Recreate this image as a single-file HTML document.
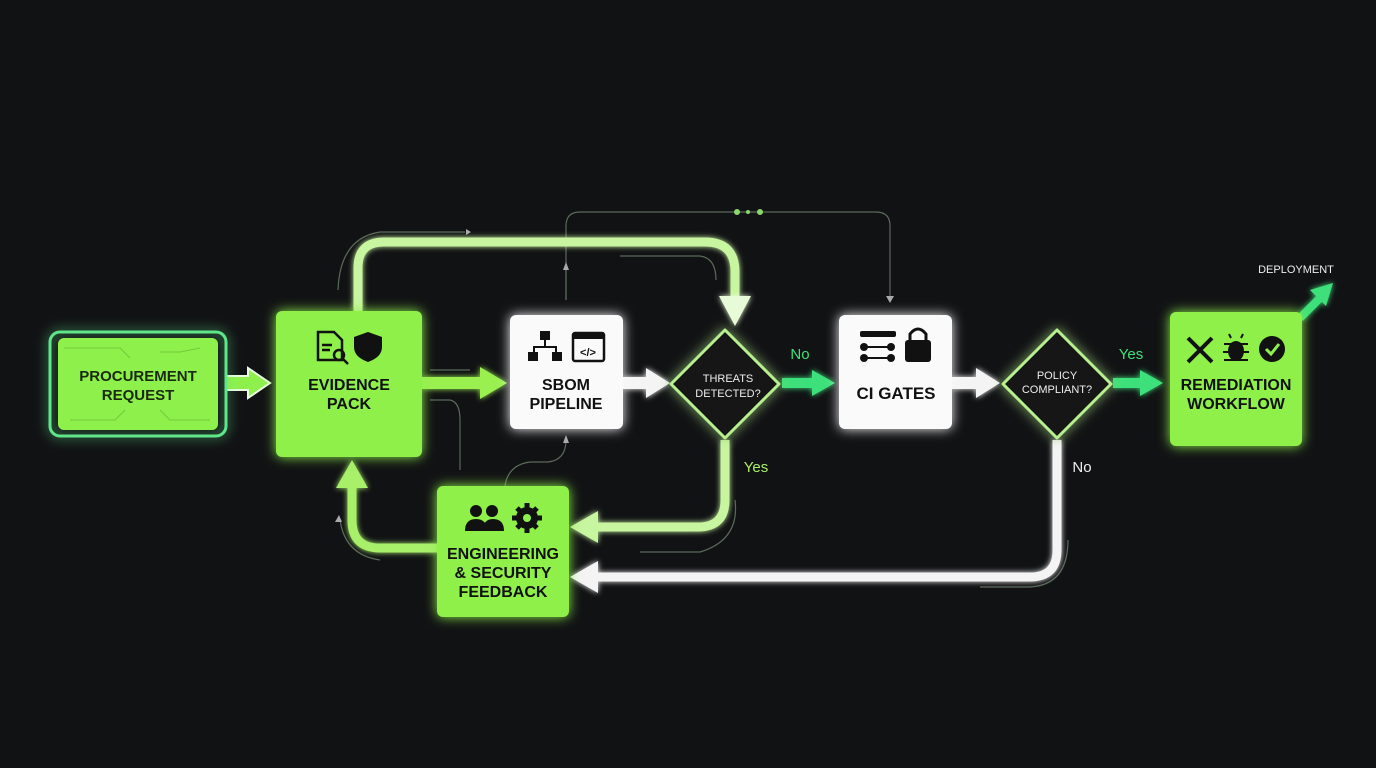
<!DOCTYPE html>
<html><head><meta charset="utf-8"><style>
html,body{margin:0;padding:0;background:#111214;}
svg{display:block}
text{font-family:"Liberation Sans",sans-serif;}
</style></head><body>
<svg width="1376" height="768" viewBox="0 0 1376 768" xmlns="http://www.w3.org/2000/svg">
<defs>
<filter id="g" x="-50%" y="-50%" width="200%" height="200%"><feGaussianBlur stdDeviation="6" result="b"/><feMerge><feMergeNode in="b"/><feMergeNode in="SourceGraphic"/></feMerge></filter>
<filter id="g2" x="-50%" y="-50%" width="200%" height="200%"><feGaussianBlur stdDeviation="3" result="b"/><feMerge><feMergeNode in="b"/><feMergeNode in="SourceGraphic"/></feMerge></filter>
</defs>
<rect width="1376" height="768" fill="#111214"/>
<!-- thin lines -->
<g fill="none" stroke="#5a6a5a" stroke-width="1.2">
<path d="M566 300 V226 Q566 212 580 212 H876 Q890 212 890 226 V298"/>
<path d="M338 290 Q340 238 380 232 H465"/>
<path d="M620 256 H700 Q716 258 716 280"/>
<path d="M566 300 V270"/>
<path d="M430 370 H470"/>
<path d="M430 400 H450 Q460 402 460 420 V470"/>
<path d="M505 486 Q508 465 530 462 H548 Q566 460 566 440"/>
<path d="M340 520 Q345 555 380 560"/>
<path d="M735 500 Q740 540 700 552 H640"/>
<path d="M1068 540 Q1068 585 1030 587 H980"/>
</g>
<g fill="#8ad86a"><circle cx="737" cy="212" r="3"/><circle cx="748" cy="212" r="2"/><circle cx="760" cy="212" r="3"/></g>
<g fill="#aaa"><path d="M886 296 L894 296 L890 303Z"/><path d="M466 229 L466 235 L471 232Z"/><path d="M566 262 L563 270 L569 270Z"/><path d="M566 435 L563 443 L569 443Z"/><path d="M335 522 L339 515 L342 522Z"/></g>
<!-- big connectors -->
<g fill="none" stroke-linecap="butt" filter="url(#g2)">
<path d="M358 311 V268 Q358 242 384 242 H705 Q735 242 735 272 V296" stroke="#c8f5a0" stroke-width="9"/>
<path d="M725 440 V500 Q725 527 698 527 H595" stroke="#c8f5a0" stroke-width="9"/>
<path d="M1057 440 V550 Q1057 577 1030 577 H595" stroke="#f4f4f4" stroke-width="9"/>
<path d="M437 548 H380 Q352 548 352 520 V486" stroke="#a8ef6a" stroke-width="9"/>
<path d="M422 383 H482" stroke="#9af050" stroke-width="12"/>
<path d="M623 383 H648" stroke="#f4f4f4" stroke-width="12"/>
<path d="M782 383 H815" stroke="#3ee07a" stroke-width="10"/>
<path d="M952 383 H978" stroke="#f4f4f4" stroke-width="12"/>
<path d="M1113 383 H1143" stroke="#3ee07a" stroke-width="10"/>
<path d="M1300 318 L1320 298" stroke="#3ee07a" stroke-width="8"/>
</g>
<g filter="url(#g2)">
<path d="M719 296 L751 296 L735 326Z" fill="#e8fbd8"/>
<path d="M598 511 L598 543 L570 527Z" fill="#c8f5a0"/>
<path d="M598 561 L598 593 L570 577Z" fill="#f4f4f4"/>
<path d="M336 488 L368 488 L352 460Z" fill="#a8ef6a"/>
<path d="M480 367 L480 399 L507 383Z" fill="#9af050"/>
<path d="M646 368 L646 398 L670 383Z" fill="#f4f4f4"/>
<path d="M812 370 L812 396 L835 383Z" fill="#3ee07a"/>
<path d="M976 368 L976 398 L1000 383Z" fill="#f4f4f4"/>
<path d="M1140 370 L1140 396 L1163 383Z" fill="#3ee07a"/>
<path d="M1310 290 L1333 283 L1326 306Z" fill="#3ee07a"/>
</g>
<!-- procurement arrow (outline) -->
<path d="M226 376 H248 V368 L270 383 L248 398 V390 H226" fill="#8ef04a" stroke="#e8ffe0" stroke-width="2"/>
<!-- procurement -->
<rect x="50" y="332" width="176" height="104" rx="10" fill="none" stroke="#5fe68a" stroke-width="3" filter="url(#g)"/>
<rect x="58" y="338" width="160" height="92" rx="6" fill="#8ef04a"/>
<g stroke="#75c93e" stroke-width="1" fill="none"><path d="M64 348 H120 L130 358 M200 348 L180 352 H160 M70 420 H115 L125 410 M210 420 H170 L160 410"/></g>
<text x="138" y="381" font-size="15" font-weight="bold" fill="#1a2a10" text-anchor="middle">PROCUREMENT</text>
<text x="138" y="400" font-size="15" font-weight="bold" fill="#1a2a10" text-anchor="middle">REQUEST</text>
<!-- evidence -->
<rect x="276" y="311" width="146" height="146" rx="6" fill="#8ef04a" filter="url(#g)"/>
<g fill="none" stroke="#111" stroke-width="2.5"><path d="M318 332 H334 L342 340 V360 H318Z"/><circle cx="339" cy="355" r="5"/><path d="M343 359 L348 364"/><path d="M322 345 H332 M322 350 H330"/></g>
<path d="M368 332 L382 337 V347 Q382 357 368 362 Q354 357 354 347 V337Z" fill="#111"/>
<path d="M368 337 L377 340 V347 Q377 354 368 357Z" fill="#8ef04a" opacity=".0"/>
<text x="349" y="390" font-size="16" font-weight="bold" fill="#111" text-anchor="middle">EVIDENCE</text>
<text x="349" y="409" font-size="16" font-weight="bold" fill="#111" text-anchor="middle">PACK</text>
<!-- sbom -->
<rect x="510" y="315" width="113" height="114" rx="6" fill="#fafafa" filter="url(#g)"/>
<g fill="#111"><rect x="540" y="331" width="10" height="9"/><rect x="528" y="352" width="10" height="9"/><rect x="552" y="352" width="10" height="9"/><path d="M544 340 V346 H533 V352 H535 V348 H555 V352 H557 V346 H546 V340Z"/></g>
<rect x="573" y="333" width="31" height="28" rx="2" fill="none" stroke="#111" stroke-width="2.5"/><rect x="573" y="333" width="31" height="6" fill="#111"/>
<text x="588" y="356" font-size="11" fill="#111" text-anchor="middle" font-weight="bold">&lt;/&gt;</text>
<text x="566" y="390" font-size="16" font-weight="bold" fill="#111" text-anchor="middle">SBOM</text>
<text x="566" y="409" font-size="16" font-weight="bold" fill="#111" text-anchor="middle">PIPELINE</text>
<!-- threats diamond -->
<path d="M725 330 L779 384 L725 438 L671 384Z" fill="#141614" stroke="#b8f090" stroke-width="3" stroke-linejoin="round" filter="url(#g)"/>
<text x="728" y="382" font-size="11" fill="#eee" text-anchor="middle">THREATS</text>
<text x="728" y="397" font-size="11" fill="#eee" text-anchor="middle">DETECTED?</text>
<text x="800" y="359" font-size="15" fill="#3ee07a" text-anchor="middle">No</text>
<text x="756" y="472" font-size="15" fill="#a8ef6a" text-anchor="middle">Yes</text>
<!-- ci gates -->
<rect x="839" y="315" width="113" height="114" rx="6" fill="#fafafa" filter="url(#g)"/>
<g fill="#111"><rect x="860" y="331" width="36" height="6" rx="2"/><circle cx="864" cy="347" r="4"/><circle cx="891" cy="347" r="4"/><rect x="866" y="346" width="22" height="2"/><circle cx="864" cy="358" r="4"/><circle cx="891" cy="358" r="4"/><rect x="866" y="357" width="22" height="2"/>
<rect x="905" y="340" width="26" height="22" rx="3"/><path d="M910 340 V334 Q918 324 926 334 V340" fill="none" stroke="#111" stroke-width="3"/></g>
<text x="896" y="399" font-size="17" font-weight="bold" fill="#111" text-anchor="middle">CI GATES</text>
<!-- policy diamond -->
<path d="M1057 330 L1111 384 L1057 438 L1003 384Z" fill="#141614" stroke="#b8f090" stroke-width="3" stroke-linejoin="round" filter="url(#g)"/>
<text x="1057" y="379" font-size="11" fill="#eee" text-anchor="middle">POLICY</text>
<text x="1057" y="393" font-size="11" fill="#eee" text-anchor="middle">COMPLIANT?</text>
<text x="1131" y="359" font-size="15" fill="#3ee07a" text-anchor="middle">Yes</text>
<text x="1082" y="472" font-size="15" fill="#eee" text-anchor="middle">No</text>
<!-- remediation -->
<rect x="1170" y="312" width="132" height="134" rx="6" fill="#8ef04a" filter="url(#g)"/>
<g stroke="#111" stroke-width="4" fill="none"><path d="M1188 338 L1212 362 M1212 338 L1188 362"/></g>
<ellipse cx="1236" cy="351" rx="8" ry="10" fill="#111"/><g stroke="#111" stroke-width="2"><path d="M1224 344 L1248 344 M1223 352 H1249 M1224 360 L1248 360 M1231 338 L1229 334 M1241 338 L1243 334"/></g>
<circle cx="1272" cy="349" r="13" fill="#111"/><path d="M1266 349 L1271 354 L1279 344" fill="none" stroke="#8ef04a" stroke-width="3"/>
<text x="1236" y="390" font-size="16" font-weight="bold" fill="#111" text-anchor="middle">REMEDIATION</text>
<text x="1236" y="409" font-size="16" font-weight="bold" fill="#111" text-anchor="middle">WORKFLOW</text>
<text x="1296" y="273" font-size="11" fill="#eee" text-anchor="middle">DEPLOYMENT</text>
<!-- feedback -->
<rect x="437" y="486" width="132" height="131" rx="6" fill="#8ef04a" filter="url(#g)"/>
<g fill="#111"><circle cx="476" cy="511" r="6"/><circle cx="492" cy="511" r="6"/><path d="M465 531 Q465 519 476 519 Q487 519 487 531Z"/><path d="M483 531 Q483 519 493 519 Q504 519 504 531Z"/>
<circle cx="527" cy="518" r="11"/><g stroke="#111" stroke-width="5"><path d="M527 503 V533 M512 518 H542 M517 508 L537 528 M537 508 L517 528"/></g></g>
<circle cx="527" cy="518" r="4" fill="#8ef04a"/>
<text x="503" y="559" font-size="16" font-weight="bold" fill="#111" text-anchor="middle">ENGINEERING</text>
<text x="503" y="578" font-size="16" font-weight="bold" fill="#111" text-anchor="middle">&amp; SECURITY</text>
<text x="503" y="597" font-size="16" font-weight="bold" fill="#111" text-anchor="middle">FEEDBACK</text>
</svg>
</body></html>
